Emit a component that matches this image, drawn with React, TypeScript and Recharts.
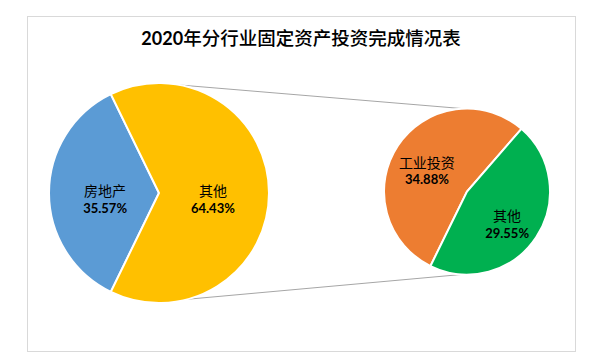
import React from 'react';
import { PieChart, Pie, Cell } from 'recharts';

const titleYear = '2020';
const titleRest = '年分行业固定资产投资完成情况表';

const leftNames = ['房地产', '其他'];
const leftValues = [35.57, 64.43];
const leftColors = ['#5B9BD5', '#FFC000'];

const rightNames = ['工业投资', '其他'];
const rightValues = [34.88, 29.55];
const rightColors = ['#ED7D31', '#00B050'];

const leftData = leftNames.map((name, i) => ({ name, value: leftValues[i] }));
const rightData = rightNames.map((name, i) => ({ name, value: rightValues[i] }));

const W = 600;
const H = 361;
const L = { cx: 159, cy: 193, r: 110 };
const R = { cx: 467, cy: 191.5, r: 83 };
const RAD = Math.PI / 180;

const leftStart = 180 - (leftValues[0] / (leftValues[0] + leftValues[1])) * 180;
const rightStart = 49;

const pt = (c: { cx: number; cy: number; r: number }, deg: number) => ({
  x: c.cx + c.r * Math.cos(deg * RAD),
  y: c.cy - c.r * Math.sin(deg * RAD),
});

const makeLabel = (frac: number) => (props: any) => {
  const { cx, cy, midAngle, outerRadius, name, value } = props;
  const d = outerRadius * frac;
  const x = cx + d * Math.cos(-midAngle * RAD);
  const y = cy + d * Math.sin(-midAngle * RAD);
  return (
    <g>
      <text
        x={x}
        y={y + 3}
        textAnchor="middle"
        fontFamily="'Noto Sans CJK SC', sans-serif"
        fontSize={14}
        fill="#000"
      >
        {name}
      </text>
      <text
        x={x}
        y={y + 19.5}
        textAnchor="middle"
        fontFamily="Lato, 'Liberation Sans', sans-serif"
        fontWeight="bold"
        fontSize={13}
        fill="#000"
      >
        {value.toFixed(2)}%
      </text>
    </g>
  );
};

export default function App() {
  const t1 = pt(L, 79);
  const t2 = pt(R, 93);
  const b1 = pt(L, -75);
  const b2 = pt(R, -93);
  return (
    <div style={{ position: 'absolute', left: 0, top: 0, width: W, height: H, background: '#fff' }}>
      <svg width={W} height={H} style={{ position: 'absolute', left: 0, top: 0 }}>
        <rect x={27.5} y={16.5} width={548} height={335} fill="#fff" stroke="#d9d9d9" strokeWidth={1} />
        <text x={301} y={45} textAnchor="middle" fontSize={18.5} fill="#000">
          <tspan fontFamily="Lato, 'Liberation Sans', sans-serif" fontWeight="bold" fontSize={18}>
            {titleYear}
          </tspan>
          <tspan fontFamily="'Noto Sans CJK SC', sans-serif" fontWeight={500}>
            {titleRest}
          </tspan>
        </text>
        <line x1={t1.x} y1={t1.y} x2={t2.x} y2={t2.y} stroke="#a6a6a6" strokeWidth={1} />
        <line x1={b1.x} y1={b1.y} x2={b2.x} y2={b2.y} stroke="#a6a6a6" strokeWidth={1} />
      </svg>
      <div style={{ position: 'absolute', left: 0, top: 0 }}>
        <PieChart width={W} height={H} margin={{ top: 0, right: 0, bottom: 0, left: 0 }}>
          <Pie
            data={leftData}
            dataKey="value"
            nameKey="name"
            cx={L.cx}
            cy={L.cy}
            outerRadius={L.r}
            startAngle={leftStart}
            endAngle={leftStart + 360}
            stroke="#fff"
            strokeWidth={2}
            isAnimationActive={false}
            labelLine={false}
            label={makeLabel(0.49)}
          >
            {leftData.map((d, i) => (
              <Cell key={d.name + i} fill={leftColors[i]} />
            ))}
          </Pie>
          <Pie
            data={rightData}
            dataKey="value"
            nameKey="name"
            cx={R.cx}
            cy={R.cy}
            outerRadius={R.r}
            startAngle={rightStart}
            endAngle={rightStart + 360}
            stroke="#fff"
            strokeWidth={2}
            isAnimationActive={false}
            labelLine={false}
            label={makeLabel(0.58)}
          >
            {rightData.map((d, i) => (
              <Cell key={d.name + i} fill={rightColors[i]} />
            ))}
          </Pie>
        </PieChart>
      </div>
    </div>
  );
}
